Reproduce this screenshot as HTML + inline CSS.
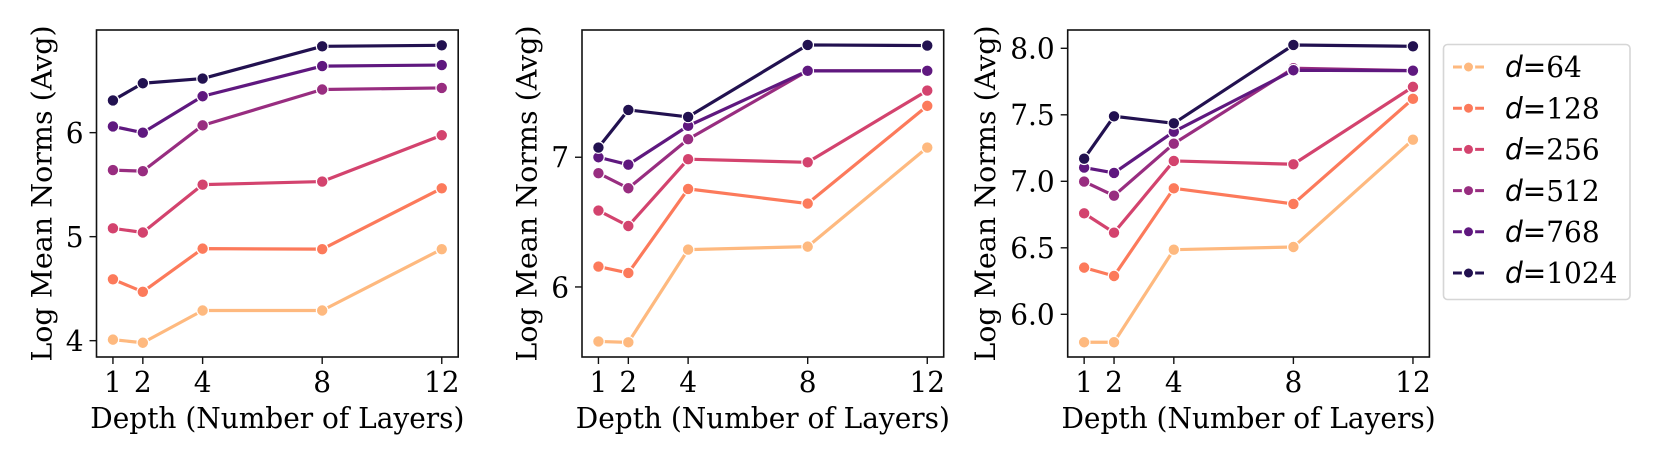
<!DOCTYPE html>
<html>
<head>
<meta charset="utf-8">
<title>Log Mean Norms vs Depth</title>
<style>
html,body{margin:0;padding:0;background:#fff;width:1661px;height:462px;overflow:hidden}
svg{display:block}
text{font-family:"DejaVu Serif","Liberation Serif",serif;fill:#000}
</style>
</head>
<body>
<svg id="chart" xmlns="http://www.w3.org/2000/svg" width="1661" height="462" viewBox="0 0 1661 462"></svg>
<script>
const depths = [1, 2, 4, 8, 12];
const seriesLabels = ["64", "128", "256", "512", "768", "1024"];
const seriesColors = ["#feb97f", "#fc7a5b", "#d3436e", "#982d80", "#5f187f", "#221150"];

const panel1Values = [
  [4.01, 3.98, 4.29, 4.29, 4.88],
  [4.59, 4.47, 4.885, 4.88, 5.465],
  [5.08, 5.04, 5.50, 5.53, 5.975],
  [5.64, 5.63, 6.07, 6.415, 6.43],
  [6.06, 6.00, 6.35, 6.64, 6.65],
  [6.31, 6.475, 6.52, 6.83, 6.84]
];
const panel2Values = [
  [5.58, 5.573, 6.288, 6.311, 7.075],
  [6.157, 6.108, 6.756, 6.643, 7.396],
  [6.589, 6.47, 6.985, 6.961, 7.514],
  [6.877, 6.761, 7.139, 7.666, 7.666],
  [7.0, 6.943, 7.242, 7.666, 7.666],
  [7.075, 7.365, 7.311, 7.866, 7.861]
];
const panel3Values = [
  [5.79, 5.79, 6.486, 6.506, 7.313],
  [6.351, 6.288, 6.947, 6.83, 7.62],
  [6.759, 6.614, 7.153, 7.128, 7.71],
  [6.998, 6.892, 7.283, 7.85, 7.832],
  [7.103, 7.063, 7.373, 7.835, 7.832],
  [7.17, 7.489, 7.436, 8.025, 8.015]
];
const panel1Ticks = ["4", "5", "6"];
const panel2Ticks = ["6", "7"];
const panel3Ticks = ["6.0", "6.5", "7.0", "7.5", "8.0"];
const xDomain = [0.45, 12.55];
const panel1Domain = [3.843, 6.987];
const panel2Domain = [5.46, 7.981];
const panel3Domain = [5.679, 8.1376];

const NS = "http://www.w3.org/2000/svg";
const svg = document.getElementById("chart");
const TOP = 30, BOTTOM = 357, WIDTH = 361.7;
const FONT = 28, STRETCH = 1.04, YTITLE_STRETCH = 1.018;

function mk(parent, tag, attrs) {
  const el = document.createElementNS(NS, tag);
  for (const k in attrs) el.setAttribute(k, attrs[k]);
  parent.appendChild(el);
  return el;
}

function place(x, y) {
  return "translate(" + x + "," + y + ") scale(1," + STRETCH + ")";
}

function drawPanel(id, left, labelX, values, ticks, yDomain) {
  const xScale = d => left + (d - xDomain[0]) / (xDomain[1] - xDomain[0]) * WIDTH;
  const yScale = v => BOTTOM - (v - yDomain[0]) / (yDomain[1] - yDomain[0]) * (BOTTOM - TOP);

  const g = mk(svg, "g", {});
  
  

  values.forEach((vals, s) => {
    const sg = mk(g, "g", {});
    
    
    const pts = vals.map((v, i) => xScale(depths[i]).toFixed(2) + "," + yScale(v).toFixed(2)).join(" ");
    const line = mk(sg, "polyline", {points: pts, fill: "none", stroke: seriesColors[s], "stroke-width": 3.2, "stroke-linejoin": "round", "stroke-linecap": "round"});
    
    
    vals.forEach((v, i) => {
      const c = mk(sg, "circle", {cx: xScale(depths[i]).toFixed(2), cy: yScale(v).toFixed(2), r: 5.8, fill: seriesColors[s], stroke: "#fff", "stroke-width": 1.2});
      
      
    });
  });

  const frame = mk(g, "rect", {x: left, y: TOP, width: WIDTH, height: BOTTOM - TOP, fill: "none", stroke: "#111", "stroke-width": 1.6});
  
  

  depths.forEach(d => {
    const x = xScale(d);
    const t = mk(g, "line", {x1: x, x2: x, y1: BOTTOM, y2: BOTTOM + 7, stroke: "#111", "stroke-width": 1.4});
    
    
    const l = mk(g, "text", {x: 0, y: 0, "text-anchor": "middle", "font-size": FONT, transform: place(x, 392)});
    l.textContent = d;
    
    
  });

  ticks.forEach(v => {
    const y = yScale(parseFloat(v));
    const t = mk(g, "line", {x1: left - 7, x2: left, y1: y, y2: y, stroke: "#111", "stroke-width": 1.4});
    
    
    const l = mk(g, "text", {x: 0, y: 0, "text-anchor": "end", "font-size": FONT, transform: place(left - 13, y + 10.4)});
    l.textContent = v;
    
    
  });

  const xt = mk(g, "text", {x: 0, y: 0, "text-anchor": "middle", "font-size": FONT, transform: place(left + WIDTH / 2, 428)});
  xt.textContent = "Depth (Number of Layers)";
  
  

  const yt = mk(g, "text", {x: 0, y: 0, "text-anchor": "middle", "font-size": FONT, transform: "translate(" + labelX + "," + ((TOP + BOTTOM) / 2) + ") scale(1," + YTITLE_STRETCH + ") rotate(-90)"});
  yt.textContent = "Log Mean Norms (Avg)";
  
  
}

drawPanel(1, 96.5, 51.5, panel1Values, panel1Ticks, panel1Domain);
drawPanel(2, 582, 536.5, panel2Values, panel2Ticks, panel2Domain);
drawPanel(3, 1067.7, 995, panel3Values, panel3Ticks, panel3Domain);

const legend = mk(svg, "g", {});


const legendBox = mk(legend, "rect", {x: 1443.5, y: 44.5, width: 186.5, height: 255, rx: 4, ry: 4, fill: "#fff", stroke: "#d6d6d6", "stroke-width": 1.6});



seriesLabels.forEach((lab, i) => {
  const y = 67 + i * 41.2;
  const e = mk(legend, "g", {});
  
  
  const ln = mk(e, "line", {x1: 1453, x2: 1484, y1: y, y2: y, stroke: seriesColors[i], "stroke-width": 3});
  
  
  const c = mk(e, "circle", {cx: 1468.5, cy: y, r: 5.6, fill: seriesColors[i], stroke: "#fff", "stroke-width": 2.2});
  
  
  const t = mk(e, "text", {x: 0, y: 0, "font-size": FONT, transform: place(1505, y + 10.2)});
  
  
  const a = mk(t, "tspan", {"font-style": "italic", style: 'font-family:"DejaVu Sans",sans-serif'});
  a.textContent = "d";
  const b = mk(t, "tspan", {style: 'font-family:"DejaVu Sans",sans-serif'});
  b.textContent = "=";
  const n = mk(t, "tspan", {});
  n.textContent = lab;
});
</script>
</body>
</html>
